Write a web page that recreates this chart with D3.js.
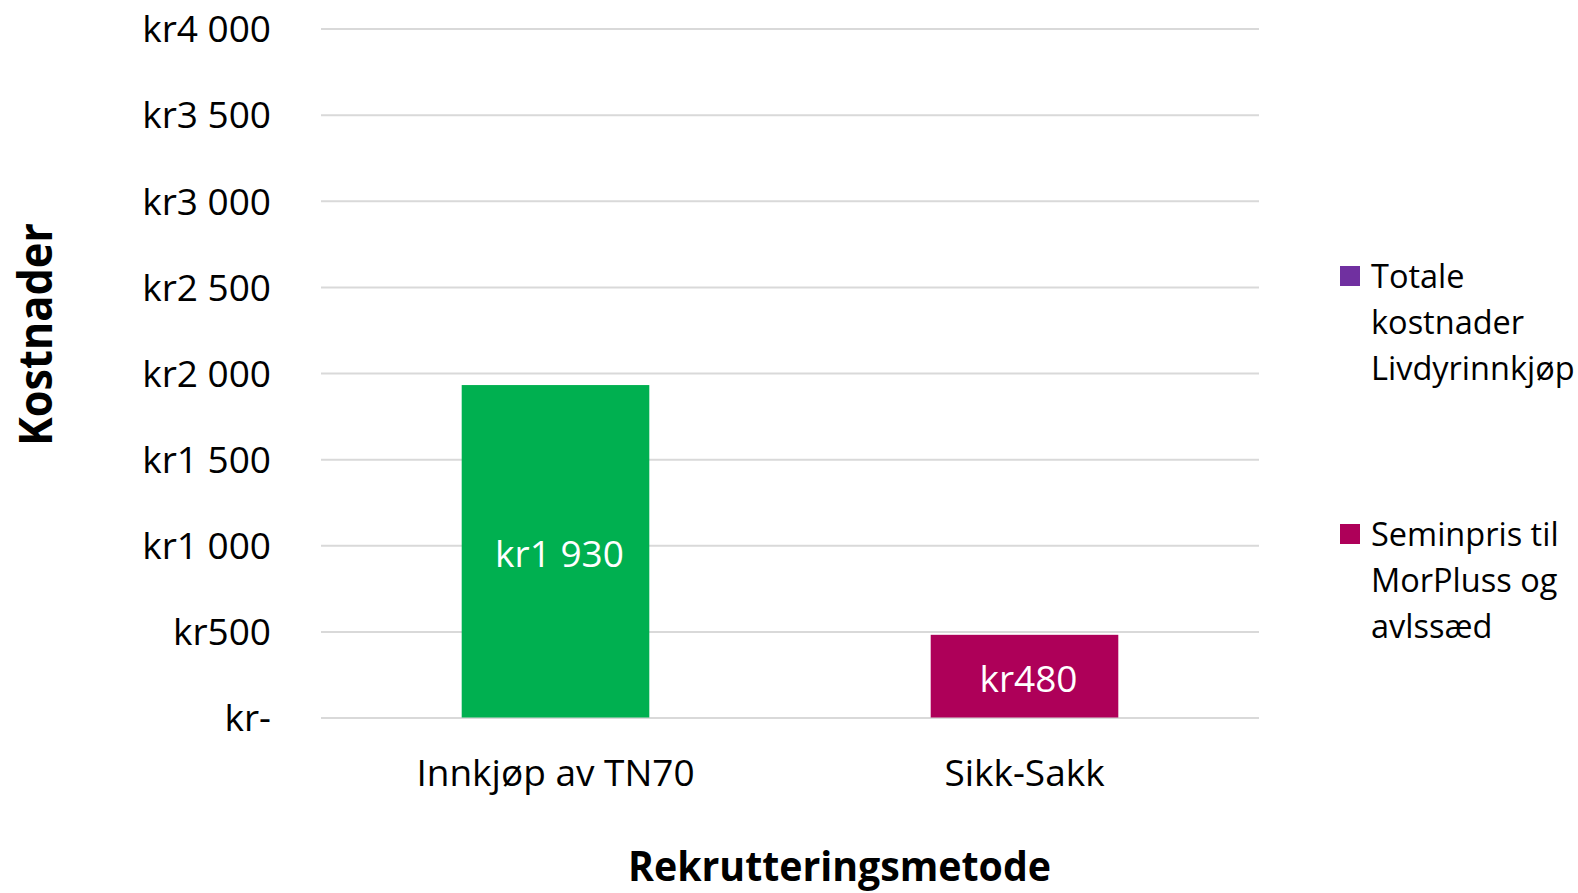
<!DOCTYPE html>
<html>
<head>
<meta charset="utf-8">
<script src="https://cdn.jsdelivr.net/npm/d3@7"></script>
<style>
  html, body { margin: 0; padding: 0; background: #ffffff; }
  svg { display: block; font-family: "Open Sans", "Noto Sans", sans-serif; }
</style>
</head>
<body>
<svg id="chart" width="1578" height="893"></svg>
<script>
// ---- data ----
const categories = ["Innkjøp av TN70", "Sikk-Sakk"];
const values = [1930, 480];
const barColors = ["#00B050", "#AE0059"];
const valueLabels = ["kr1 930", "kr480"];
const yTicks = [0, 500, 1000, 1500, 2000, 2500, 3000, 3500, 4000];
const yTickLabels = ["kr-", "kr500", "kr1 000", "kr1 500", "kr2 000", "kr2 500", "kr3 000", "kr3 500", "kr4 000"];
const legendNames = [["Totale", "kostnader", "Livdyrinnkjøp"], ["Seminpris til", "MorPluss og", "avlssæd"]];
const legendColors = ["#7030A0", "#AE0059"];
const yTitle = "Kostnader";
const xTitle = "Rekrutteringsmetode";

// ---- layout ----
const svg = d3.select("#chart");
const plot = { left: 321, right: 1259, top: 28.5, bottom: 717.5 };

const x = d3.scaleBand().domain(categories).range([plot.left, plot.right]).paddingInner(0.6).paddingOuter(0.3);
const y = d3.scaleLinear().domain([0, 4000]).range([plot.bottom, plot.top]);

// gridlines
const yAxis = d3.axisLeft(y).tickValues(yTicks).tickSize(-(plot.right - plot.left)).tickFormat((d, i) => yTickLabels[i]).tickPadding(50);
const gy = svg.append("g").attr("transform", `translate(${plot.left},0)`).call(yAxis);
gy.select(".domain").remove();
gy.selectAll(".tick line").attr("stroke", "#d9d9d9").attr("stroke-width", 2);
gy.selectAll(".tick text").attr("font-size", 37).attr("fill", "#000").attr("font-family", "'Open Sans', sans-serif").attr("dy", "0.36em");

// bars
svg.append("g").selectAll("rect").data(values).join("rect")
  .attr("x", (d, i) => x(categories[i]))
  .attr("width", x.bandwidth())
  .attr("y", d => y(d))
  .attr("height", d => y(0) - y(d))
  .attr("fill", (d, i) => barColors[i]);

// value labels
svg.append("g").selectAll("text").data(values).join("text")
  .attr("x", (d, i) => x(categories[i]) + x.bandwidth() / 2 + 4)
  .attr("y", d => (y(d) + y(0)) / 2 + 16)
  .attr("text-anchor", "middle")
  .attr("font-size", 37)
  .attr("fill", "#ffffff")
  .text((d, i) => valueLabels[i]);

// x axis category labels
const xAxis = d3.axisBottom(x).tickSize(0).tickPadding(0);
const gx = svg.append("g").attr("transform", `translate(0,${plot.bottom})`).call(xAxis);
gx.select(".domain").remove();
gx.selectAll(".tick text").attr("font-size", 37).attr("fill", "#000").attr("font-family", "'Open Sans', sans-serif").attr("dy", null).attr("y", 68);

// axis titles
svg.append("text")
  .attr("x", 839.5).attr("y", 881)
  .attr("text-anchor", "middle").attr("font-weight", "bold").attr("font-size", 42)
  .attr("textLength", 423).attr("lengthAdjust", "spacingAndGlyphs")
  .text(xTitle);

svg.append("text")
  .attr("transform", "translate(52,334.5) rotate(-90)")
  .attr("text-anchor", "middle").attr("font-weight", "bold").attr("font-size", 47)
  .attr("textLength", 223).attr("lengthAdjust", "spacingAndGlyphs")
  .text(yTitle);

// legend
const legendTops = [266, 524];
const legendLineGap = 46;
const lg = svg.append("g");
legendNames.forEach((lines, i) => {
  lg.append("rect").attr("x", 1340).attr("y", legendTops[i]).attr("width", 20).attr("height", 20).attr("fill", legendColors[i]);
  const t = lg.append("text").attr("font-size", 32.5).attr("fill", "#000");
  lines.forEach((ln, j) => {
    t.append("tspan").attr("x", 1371).attr("y", legendTops[i] + 22 + j * legendLineGap).text(ln);
  });
});
</script>
</body>
</html>
